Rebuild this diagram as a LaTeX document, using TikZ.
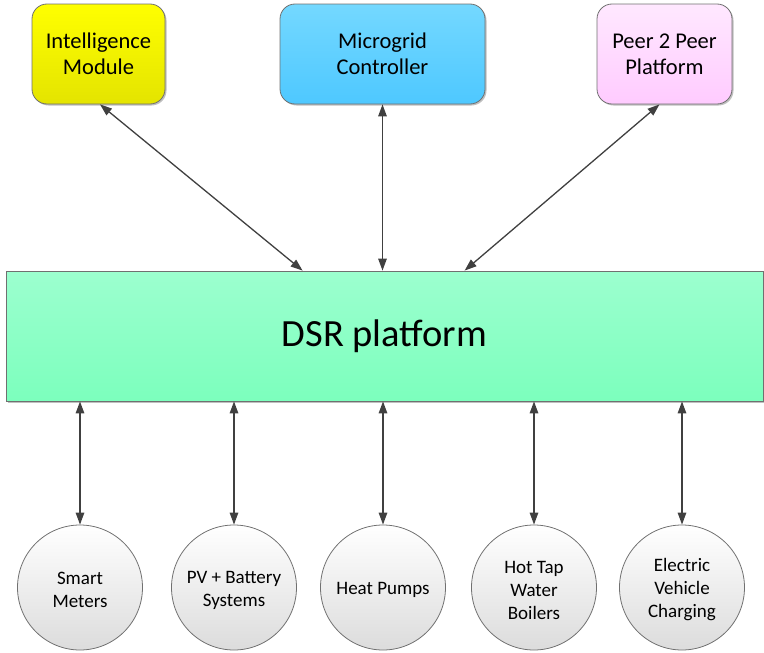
\documentclass[tikz,border=0pt]{standalone}
\usepackage{fontspec}
\setmainfont{Carlito}
\usetikzlibrary{arrows.meta,shadows,calc}
\definecolor{edgegray}{HTML}{404040}
\definecolor{bordergray}{HTML}{707070}
\definecolor{green1}{HTML}{9CFFCF}
\definecolor{green2}{HTML}{7CFFBD}
\definecolor{yellow1}{HTML}{FFFF00}
\definecolor{yellow2}{HTML}{E4E400}
\definecolor{blue1}{HTML}{74D8FF}
\definecolor{blue2}{HTML}{4EC8FF}
\definecolor{pink1}{HTML}{FFE8FF}
\definecolor{pink2}{HTML}{FFCBFF}
\definecolor{gray3}{HTML}{DCDCDC}
\tikzset{
  topbox/.style={draw=bordergray, line width=0.8pt, rounded corners=15pt, inner sep=0pt,
    align=center, font=\fontsize{22.5}{26}\selectfont,
    drop shadow={shadow xshift=1.5pt, shadow yshift=-1.5pt, opacity=0.25, fill=black}},
  dsrbox/.style={draw=bordergray, line width=0.8pt, inner sep=0pt,
    top color=green1, bottom color=green2, font=\fontsize{38.5}{44}\selectfont,
    drop shadow={shadow xshift=1.5pt, shadow yshift=-1.5pt, opacity=0.25, fill=black}},
  device/.style={circle, draw=bordergray, line width=0.8pt, minimum size=125pt, inner sep=0pt,
    top color=white, bottom color=gray3},
  devtext/.style={align=center, font=\fontsize{19}{23}\selectfont, inner sep=0pt},
  link/.style={draw=edgegray, line width=1.3pt, {Triangle[length=12pt,width=8.5pt]}-{Triangle[length=12pt,width=8.5pt]}}
}
\begin{document}
\begin{tikzpicture}[x=1pt,y=-1pt]
\useasboundingbox (0,0) rectangle (764,653);
\node[topbox, top color=yellow1, bottom color=yellow2, minimum width=133pt, minimum height=100pt] (im) at (98.5,54) {Intelligence\\Module};
\node[topbox, top color=blue1, bottom color=blue2, minimum width=205pt, minimum height=100pt] (mg) at (382.5,54) {Microgrid\\Controller};
\node[topbox, top color=pink1, bottom color=pink2, minimum width=135pt, minimum height=100pt] (pp) at (664.5,54) {Peer 2 Peer\\Platform};
\node[dsrbox, minimum width=757pt, minimum height=130pt] (dsr) at (384.5,336) {DSR platform};
\node[device] (sm) at (80,587.5) {};
\node[device] (pv) at (234,587.5) {};
\node[device] (hp) at (383,587.5) {};
\node[device] (hw) at (534,587.5) {};
\node[device] (ev) at (682,587.5) {};
\node[devtext] (smt) at ($(sm.center)+(0,2.5)$) {Smart\\Meters};
\node[devtext] (pvt) at ($(pv.center)+(0,2.5)$) {PV + Battery\\Systems};
\node[devtext] (hpt) at ($(hp.center)+(0,2.5)$) {Heat Pumps};
\node[devtext] (hwt) at ($(hw.center)+(0,2.5)$) {Hot Tap\\Water\\Boilers};
\node[devtext] (evt) at ($(ev.center)+(0,2.5)$) {Electric\\Vehicle\\Charging};
\coordinate (imtop) at ($(im.south)+(1.5,0)$);
\coordinate (imbot) at ($(dsr.north west)+(297,0)$);
\coordinate (ppbot) at ($(dsr.north west)+(459,0)$);
\coordinate (pptop) at ($(pp.south)+(-5,0)$);
\draw[link] (imtop) -- (imbot);
\draw[link] (mg.south) -- (mg.south |- dsr.north);
\draw[link] (pptop) -- (ppbot);
\draw[link] (sm.north |- dsr.south) -- (sm.north);
\draw[link] (pv.north |- dsr.south) -- (pv.north);
\draw[link] (hp.north |- dsr.south) -- (hp.north);
\draw[link] (hw.north |- dsr.south) -- (hw.north);
\draw[link] (ev.north |- dsr.south) -- (ev.north);
\end{tikzpicture}
\end{document}
